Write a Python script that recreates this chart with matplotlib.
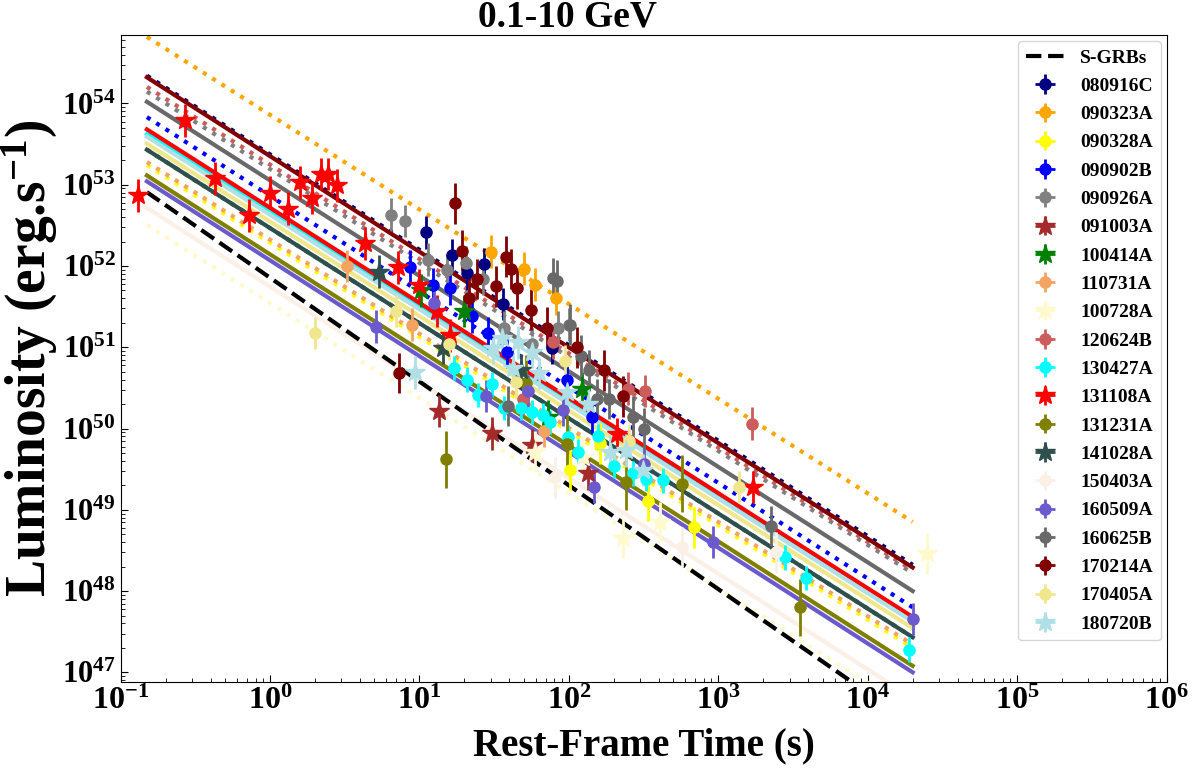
import numpy as np
import matplotlib.pyplot as plt

plt.rcParams['font.family'] = 'Liberation Serif'
plt.rcParams['font.weight'] = 'bold'
plt.rcParams['mathtext.fontset'] = 'custom'
plt.rcParams['mathtext.rm'] = 'Liberation Serif:bold'
plt.rcParams['mathtext.it'] = 'Liberation Serif:italic:bold'
plt.rcParams['mathtext.bf'] = 'Liberation Serif:bold'

# --- data (rest-frame time [s], luminosity [erg/s]) ---
t_080916C = [11, 16.5, 20.7, 27, 36, 77]
L_080916C = [2.6e52, 1.35e52, 8.1e51, 1.05e52, 3.4e51, 9.8e50]
t_090323A = [30, 50, 59, 82]
L_090323A = [1.5e52, 9.3e51, 5.9e51, 4e51]
t_090328A = [102, 161, 339, 688]
L_090328A = [3.1e49, 6.6e49, 1.3e49, 6.1e48]
t_090902B = [8.7, 12.3, 16, 22.4, 28.7, 38.5, 97, 143]
L_090902B = [9.8e51, 5.9e51, 5.3e51, 2.4e51, 1.5e51, 8.7e50, 3.9e50, 1.4e50]
t_090926A = [6.5, 8.0, 11.4, 15.2, 20.5, 26.6, 37, 57, 85, 100]
L_090926A = [4.3e52, 3.6e52, 1.2e52, 8.9e51, 1.1e52, 7e51, 1.75e51, 1.1e51, 1.75e51, 1.9e51]
t_091003A = [13.5, 30.5, 57, 134]
L_091003A = [1.65e50, 8.7e49, 6.2e49, 2.8e49]
t_100414A = [10.2, 19.8, 72, 122]
L_100414A = [5e51, 2.8e51, 1.4e50, 3.1e50]
t_110731A = [3.3, 8.9, 68]
L_110731A = [1e52, 1.9e51, 9.4e49]
t_100728A = [59, 124, 230, 408, 2.5e4]
L_100728A = [5.2e49, 4.5e49, 4.5e48, 7.1e48, 2.9e48]
t_120624B = [49, 78, 248, 324, 1680]
L_120624B = [2.3e50, 1.15e51, 3.1e50, 2.9e50, 1.15e50]
t_130427A = [17, 20.8, 24.6, 30.5, 36.7, 47.7, 57, 67, 75, 99, 115, 157, 200,
             269, 328, 427, 2800, 3870, 1.9e4]
L_130427A = [5.6e50, 4e50, 2.6e50, 3.5e50, 1.8e50, 1.8e50, 1.6e50, 1.45e50,
             1.2e50, 7.8e49, 5.2e49, 8e49, 3.5e49, 2.8e49, 2.4e49, 2.3e49,
             2.6e48, 1.45e48, 1.9e47]
t_131108A = [0.13, 0.27, 0.43, 0.72, 1.0, 1.32, 1.58, 1.9, 2.19, 2.43, 2.8,
             4.3, 7.2, 10, 13.1, 16, 209, 1700]
L_131108A = [7.4e52, 6.2e53, 1.2e53, 4.2e52, 8e52, 5.1e52, 1.07e53, 6.9e52,
             1.35e53, 1.35e53, 9.8e52, 1.9e52, 9.6e51, 5.8e51, 2.8e51, 1.4e51,
             8.5e49, 1.9e49]
t_131231A = [15, 52, 97, 241, 573, 3530]
L_131231A = [4.2e49, 3.6e50, 6.5e49, 2.2e49, 2.1e49, 6.3e47]
t_141028A = [5.4, 14.4, 48]
L_141028A = [8.5e51, 9.8e50, 5.2e50]
t_150403A = [81, 573, 2440]
L_150403A = [2.5e49, 3.5e48, 3e48]
t_160509A = [5.1, 12.5, 27.9, 53, 91, 147, 318, 922, 2e4]
L_160509A = [1.8e51, 3.5e51, 2.5e50, 2.9e50, 1.7e50, 1.9e49, 3.7e49, 4e48, 4.5e47]
t_160625B = [39, 78, 83, 102, 120, 136, 154, 186, 269, 318, 2260]
L_160625B = [1.9e50, 7.1e51, 6.6e51, 1.9e51, 7.9e50, 5.2e50, 2.3e50, 2.3e50,
             1.4e50, 1e50, 6.3e48]
t_170214A = [7.3, 17.3, 19.2, 21.4, 24.2, 32.5, 37.9, 40.9, 44.9, 55.7, 71,
             113, 172, 230]
L_170214A = [4.8e50, 5.9e52, 1.55e52, 4e51, 6.9e51, 5.6e51, 1.3e52, 9.2e51,
             5.3e51, 2.9e51, 1.75e51, 1e51, 5.2e50, 2.5e50]
t_170405A = [2.0, 7, 15.7, 44, 94, 253, 1380]
L_170405A = [1.5e51, 2.8e51, 1.1e51, 3.7e50, 6.8e50, 7.1e49, 1.9e49]
t_180720B = [9.4, 31, 35.6, 42, 46, 57, 63, 97, 134, 188, 241, 313]
L_180720B = [4.9e50, 9.8e50, 1.3e51, 5.5e50, 1.15e51, 8.7e50, 4.8e50, 2.8e50,
             2e50, 5.2e49, 5.4e49, 3.1e49]

names = ['080916C', '090323A', '090328A', '090902B', '090926A', '091003A',
         '100414A', '110731A', '100728A', '120624B', '130427A', '131108A',
         '131231A', '141028A', '150403A', '160509A', '160625B', '170214A',
         '170405A', '180720B']
times = [t_080916C, t_090323A, t_090328A, t_090902B, t_090926A, t_091003A,
         t_100414A, t_110731A, t_100728A, t_120624B, t_130427A, t_131108A,
         t_131231A, t_141028A, t_150403A, t_160509A, t_160625B, t_170214A,
         t_170405A, t_180720B]
lums = [L_080916C, L_090323A, L_090328A, L_090902B, L_090926A, L_091003A,
        L_100414A, L_110731A, L_100728A, L_120624B, L_130427A, L_131108A,
        L_131231A, L_141028A, L_150403A, L_160509A, L_160625B, L_170214A,
        L_170405A, L_180720B]
colors = ['navy', 'orange', 'yellow', 'blue', 'gray', 'brown',
          'green', 'sandybrown', 'lemonchiffon', 'indianred', 'cyan', 'red',
          'olive', 'darkslategray', 'linen', 'slateblue', 'dimgray', 'maroon',
          'khaki', 'powderblue']
markers = ['o', 'o', 'o', 'o', 'o', '*', '*', 'o', '*', 'o', 'o', '*',
           'o', '*', 'o', 'o', 'o', 'o', 'o', '*']
err_dex = [0.2, 0.2, 0.25, 0.2, 0.2, 0.2, 0.2, 0.2, 0.25, 0.2, 0.15, 0.2,
           0.35, 0.2, 0.25, 0.2, 0.25, 0.25, 0.2, 0.2]

# fitted power laws: luminosity at t_fit[0] and t_fit[1] (None = no fit line)
t_fit = [0.15, 2e4]
fit_start = [2.2e54, 6.6e54, 1.75e53, 6.8e53, 1.4e54, None,
             2.7e53, 1.9e53, 3.2e52, 1.6e54, 4.2e53, 4.8e53,
             1.3e53, 2.7e53, 5.2e52, 1.1e53, 1.05e54, 2.1e54,
             3.2e53, 3.9e53]
fit_end = [2.1e48, 7.1e48, 2.0e47, 6.3e47, 1.66e48, None,
           2.7e47, 2.2e47, 3.3e46, 1.8e48, 4.4e47, 4.8e47,
           1.2e47, 2.7e47, 4.8e46, 1e47, 1e48, 1.95e48,
           3.5e47, 4.2e47]
fit_style = [':', ':', ':', ':', ':', ':', ':', ':', ':', ':', '-', '-',
             '-', '-', '-', '-', '-', '-', '-', '-']
sgrb_fit = [8.1e52, 2.3e46]

x_ticks = [1e-1, 1e0, 1e1, 1e2, 1e3, 1e4, 1e5, 1e6]
y_ticks = [1e47, 1e48, 1e49, 1e50, 1e51, 1e52, 1e53, 1e54]

fig, ax = plt.subplots(figsize=(11.94, 7.68), dpi=100)
fig.subplots_adjust(left=0.101, right=0.977, bottom=0.112, top=0.954)

ax.plot(t_fit, sgrb_fit, 'k--', lw=3, label='S-GRBs', zorder=2.5)

for i in range(len(names)):
    if fit_start[i] is not None:
        ax.plot(t_fit, [fit_start[i], fit_end[i]], ls=fit_style[i],
                color=colors[i], lw=3, zorder=2)

for i in range(len(names)):
    t = np.array(times[i])
    L = np.array(lums[i])
    d = err_dex[i]
    yerr = [L - L / 10**d, L * 10**d - L]
    xerr = [t * 0.05, t * 0.05]
    ms = 15 if markers[i] == '*' else 8
    ax.errorbar(t, L, yerr=yerr, xerr=xerr, fmt=markers[i], color=colors[i],
                ms=ms, elinewidth=2, capsize=0, label=names[i], zorder=3)

ax.set_xscale('log')
ax.set_yscale('log')
ax.set_xlim(1e-1, 1e6)
ax.set_ylim(7.6e46, 6.9e54)
ax.set_xticks(x_ticks)
ax.set_yticks(y_ticks)
ax.yaxis.set_minor_locator(plt.LogLocator(base=10, subs=np.arange(2, 10), numticks=100))
ax.xaxis.set_minor_locator(plt.LogLocator(base=10, subs=np.arange(2, 10), numticks=100))
ax.yaxis.set_minor_formatter(plt.NullFormatter())
ax.xaxis.set_minor_formatter(plt.NullFormatter())
ax.tick_params(which='both', direction='in')
ax.tick_params(axis='x', labelsize=23)
ax.tick_params(axis='y', labelsize=22)
ax.tick_params(which='major', length=5)
ax.tick_params(which='minor', length=3)

ax.set_xlabel('Rest-Frame Time (s)', fontsize=28, fontweight='bold', labelpad=8)
ax.set_ylabel('Luminosity (erg.s$^{-1}$)', fontsize=40, fontweight='bold')
ax.yaxis.set_label_coords(-0.058, 0.5)
fig.text(567 / 1194, 1 - 17 / 768, '0.1-10 GeV', fontsize=27,
         fontweight='bold', ha='center', va='center')

ax.legend(loc='upper right', borderaxespad=0.3, labelspacing=0.55,
          prop={'weight': 'bold', 'size': 14})

fig.savefig('out.png', dpi=100)
